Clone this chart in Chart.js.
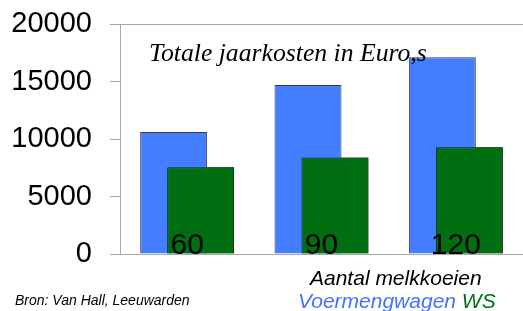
<!DOCTYPE html>
<html>
<head>
<meta charset="utf-8">
<script src="https://cdn.jsdelivr.net/npm/chart.js@4/dist/chart.umd.min.js"></script>
<style>
  body { margin: 0; background: #fff; }
  #wrap { position: relative; width: 523px; height: 311px; overflow: hidden; }
  .txt { position: absolute; white-space: nowrap; line-height: 1; }
  #titel { left: 149px; top: 38px; font: italic 25.7px "Liberation Serif", "Times New Roman", serif; color: #000; }
  #asTitel { left: 310px; top: 266px; font: italic 21px "Liberation Sans", Arial, sans-serif; color: #000; }
  #legenda { left: 298px; top: 289px; font: italic 21px "Liberation Sans", Arial, sans-serif; }
  #bron { left: 15px; top: 292px; font: italic 14px "Liberation Sans", Arial, sans-serif; color: #000; }
</style>
</head>
<body>
<div id="wrap">
  <canvas id="kosten" width="523" height="311"></canvas>
  <div class="txt" id="titel">Totale jaarkosten in Euro,s</div>
  <div class="txt" id="asTitel">Aantal melkkoeien</div>
  <div class="txt" id="legenda"><span style="color:#4272ff">Voermengwagen</span> <span style="color:#007018">WS</span></div>
  <div class="txt" id="bron">Bron: Van Hall, Leeuwarden</div>
</div>
<script>
// aantal melkkoeien
const koeien = ['60', '90', '120'];
// totale jaarkosten (Euro)
const voermengwagen = [10600, 14700, 17100];
const ws = [7550, 8400, 9280];
// y-as
const yMin = 0;
const yMax = 20000;
const yStap = 5000;

const blauw = '#427eff';
const groen = '#006f12';
const lijn = '#a8a8a8';

// groene staven over de blauwe heen, daarna de categorie-labels in de staven
const groenBoven = {
  id: 'groenBoven',
  afterDatasetsDraw(chart) {
    chart.getDatasetMeta(1).controller.draw();
    const x = chart.scales.x;
    const c = chart.ctx;
    c.save();
    c.fillStyle = '#000';
    c.font = '30px "Liberation Sans", Arial, sans-serif';
    c.textAlign = 'center';
    c.textBaseline = 'alphabetic';
    koeien.forEach((k, i) => {
      c.fillText(k, x.getPixelForValue(i), x.top);
    });
    c.restore();
  }
};

const ctx = document.getElementById('kosten').getContext('2d');
new Chart(ctx, {
  type: 'bar',
  data: {
    labels: koeien,
    datasets: [{
      label: 'Voermengwagen',
      data: voermengwagen,
      backgroundColor: blauw,
      borderColor: '#3a3a4a',
      borderWidth: 1,
      categoryPercentage: 0.402,
      barPercentage: 2.48
    }, {
      label: 'WS',
      data: ws,
      backgroundColor: groen,
      borderColor: '#0a2a0a',
      borderWidth: 1,
      categoryPercentage: 0.402,
      barPercentage: 2.48
    }]
  },
  options: {
    responsive: false,
    animation: false,
    layout: { padding: { top: 24, left: 0, right: 0, bottom: 0 } },
    plugins: {
      legend: { display: false },
      tooltip: { enabled: false },
      title: { display: false }
    },
    scales: {
      x: {
        grid: { display: false, drawTicks: false },
        border: { display: true, color: lijn, width: 1 },
        ticks: { display: false },
        afterFit(scale) { scale.height = 57; }
      },
      y: {
        min: yMin,
        max: yMax,
        grid: {
          drawOnChartArea: true,
          color: c => (c.tick && c.tick.value === yMax) ? lijn : 'rgba(0,0,0,0)',
          tickColor: lijn,
          tickLength: 10
        },
        border: { display: true, color: lijn, width: 1 },
        ticks: {
          stepSize: yStap,
          color: '#000',
          padding: 18,
          font: { family: '"Liberation Sans", Arial, sans-serif', size: 29 },
          callback: v => String(v)
        },
        afterFit(scale) {
          scale.width = 120;
          scale.paddingTop = 0;
          scale.paddingBottom = 0;
        }
      }
    }
  },
  plugins: [groenBoven]
});
</script>
</body>
</html>
